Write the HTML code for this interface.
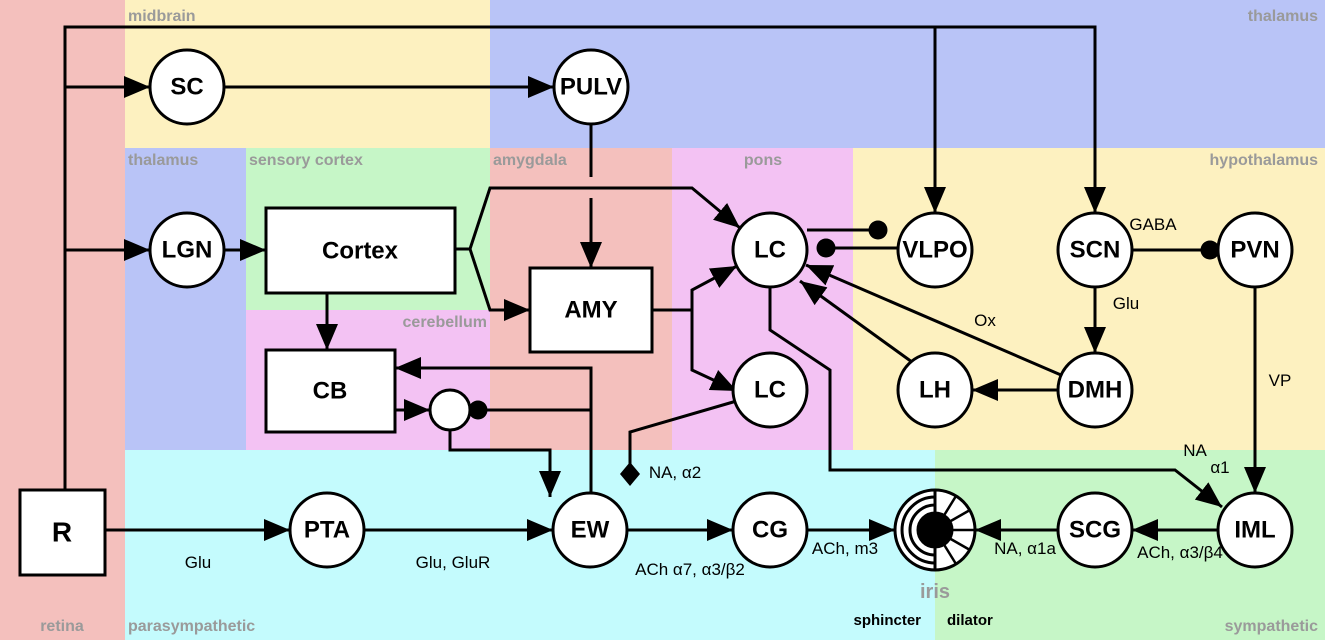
<!DOCTYPE html>
<html><head><meta charset="utf-8"><style>
html,body{margin:0;padding:0;background:#fff}
svg{display:block}
.r{font:bold 16px "Liberation Sans",sans-serif;fill:#9a9a9a}
.n{font:bold 24px "Liberation Sans",sans-serif;text-anchor:middle;dominant-baseline:central}
.l{font:17px "Liberation Sans",sans-serif;text-anchor:middle}
.b{font:bold 15px "Liberation Sans",sans-serif}
</style></head><body>
<svg width="1325" height="640" viewBox="0 0 1325 640" xmlns="http://www.w3.org/2000/svg">
<defs>
<marker id="ar" viewBox="-26 -11 26 22" refX="0" refY="0" markerWidth="26" markerHeight="22" markerUnits="userSpaceOnUse" orient="auto"><path d="M-26,-11 L0,0 L-26,11 Z" fill="#000"/></marker>
<marker id="d" viewBox="-10 -10 20 20" refX="0" refY="0" markerWidth="20" markerHeight="20" markerUnits="userSpaceOnUse" orient="auto"><circle cx="0" cy="0" r="9.5" fill="#000"/></marker>
<marker id="dm" viewBox="-12 -12 24 24" refX="0" refY="0" markerWidth="24" markerHeight="24" markerUnits="userSpaceOnUse" orient="auto"><path d="M-12,0 L0,-10 L12,0 L0,10 Z" fill="#000"/></marker>
</defs>
<rect x="0" y="0" width="125" height="640" fill="#f4c0bd"/>
<rect x="125" y="0" width="365" height="148" fill="#fdf1c0"/>
<rect x="490" y="0" width="835" height="148" fill="#b9c4f7"/>
<rect x="125" y="148" width="121" height="302" fill="#b9c4f7"/>
<rect x="246" y="148" width="244" height="162" fill="#c6f6c7"/>
<rect x="246" y="310" width="244" height="140" fill="#f3c2f3"/>
<rect x="490" y="148" width="182" height="302" fill="#f4c0bd"/>
<rect x="672" y="148" width="181" height="302" fill="#f3c2f3"/>
<rect x="853" y="148" width="472" height="302" fill="#fdf1c0"/>
<rect x="125" y="450" width="810" height="190" fill="#c4fbfd"/>
<rect x="935" y="450" width="390" height="190" fill="#c6f6c7"/>
<g class="r">
<text x="128" y="21">midbrain</text>
<text x="1318" y="21" text-anchor="end">thalamus</text>
<text x="128" y="165">thalamus</text>
<text x="249" y="165">sensory cortex</text>
<text x="493" y="165">amygdala</text>
<text x="763" y="165" text-anchor="middle">pons</text>
<text x="1318" y="165" text-anchor="end">hypothalamus</text>
<text x="487" y="327" text-anchor="end">cerebellum</text>
<text x="62" y="631" text-anchor="middle">retina</text>
<text x="128" y="631">parasympathetic</text>
<text x="1318" y="631" text-anchor="end">sympathetic</text>
<text x="935" y="598" text-anchor="middle" style="font-size:20px">iris</text>
</g>
<text class="b" x="921" y="625" text-anchor="end">sphincter</text>
<text class="b" x="947" y="625">dilator</text>
<g stroke="#000" stroke-width="3" fill="none">
<path d="M65,490 V27 H1095 V213" marker-end="url(#ar)"/>
<path d="M935,27 V213" marker-end="url(#ar)"/>
<path d="M65,87 H150" marker-end="url(#ar)"/>
<path d="M65,250 H150" marker-end="url(#ar)"/>
<path d="M224,87 H554" marker-end="url(#ar)"/>
<path d="M591,124 V177"/>
<path d="M591,198 V268" marker-end="url(#ar)"/>
<path d="M224,250 H266" marker-end="url(#ar)"/>
<path d="M455,249 H470 L490,188 H692 L740,228" marker-end="url(#ar)"/>
<path d="M470,249 L490,310 H530" marker-end="url(#ar)"/>
<path d="M327,293 V350" marker-end="url(#ar)"/>
<path d="M652,310 H692 V290 L737,266" marker-end="url(#ar)"/>
<path d="M692,310 V370 L737,391" marker-end="url(#ar)"/>
<path d="M807,230 H878" marker-end="url(#d)"/>
<path d="M898,248 H826" marker-end="url(#d)"/>
<path d="M1132,250 H1210" marker-end="url(#d)"/>
<path d="M1095,287 V353" marker-end="url(#ar)"/>
<path d="M1058,390 H972" marker-end="url(#ar)"/>
<path d="M1061,375 L806,265" marker-end="url(#ar)"/>
<path d="M912,362 L800,281" marker-end="url(#ar)"/>
<path d="M1255,287 V493" marker-end="url(#ar)"/>
<path d="M770,287 V330 L830,370 V470 H1175 L1222,507" marker-end="url(#ar)"/>
<path d="M740,400 L630,432 V474" marker-end="url(#dm)"/>
<path d="M105,530 H290" marker-end="url(#ar)"/>
<path d="M364,530 H553" marker-end="url(#ar)"/>
<path d="M627,530 H733" marker-end="url(#ar)"/>
<path d="M807,530 H895" marker-end="url(#ar)"/>
<path d="M1058,530 H975" marker-end="url(#ar)"/>
<path d="M1218,530 H1132" marker-end="url(#ar)"/>
<path d="M591,493 V368 H395" marker-end="url(#ar)"/>
<path d="M395,410 H430" marker-end="url(#ar)"/>
<path d="M591,410 H478" marker-end="url(#d)"/>
<path d="M450,430 V450 H550 V497" marker-end="url(#ar)"/>
</g>
<g stroke="#000" stroke-width="3" fill="#fff">
<circle cx="187" cy="87" r="37"/><circle cx="591" cy="87" r="37"/>
<circle cx="187" cy="250" r="37"/><circle cx="770" cy="250" r="37"/>
<circle cx="935" cy="250" r="37"/><circle cx="1095" cy="250" r="37"/>
<circle cx="1255" cy="250" r="37"/><circle cx="770" cy="390" r="37"/>
<circle cx="935" cy="390" r="37"/><circle cx="1095" cy="390" r="37"/>
<circle cx="327" cy="530" r="37"/><circle cx="590" cy="530" r="37"/>
<circle cx="770" cy="530" r="37"/><circle cx="1095" cy="530" r="37"/>
<circle cx="1255" cy="530" r="37"/>
<circle cx="450" cy="410" r="20"/>
<rect x="266" y="208" width="189" height="85"/>
<rect x="530" y="268" width="122" height="84"/>
<rect x="266" y="350" width="129" height="82"/>
<rect x="20" y="490" width="85" height="85"/>
</g>
<g stroke="#000" stroke-width="3" fill="none">
<circle cx="935" cy="530" r="40" fill="#fff"/>
<path d="M935,497 A33,33 0 0 0 935,563"/>
<path d="M935,505 A25,25 0 0 0 935,555"/>
<line x1="935" y1="490" x2="935" y2="570"/>
<g stroke-width="2.5">
<line x1="935" y1="530" x2="956" y2="496"/>
<line x1="935" y1="530" x2="970" y2="510"/>
<line x1="935" y1="530" x2="975" y2="530"/>
<line x1="935" y1="530" x2="970" y2="550"/>
<line x1="935" y1="530" x2="956" y2="564"/>
</g>
<circle cx="935" cy="530" r="17" fill="#000"/>
</g>
<g class="n">
<text x="187" y="87">SC</text><text x="591" y="87">PULV</text>
<text x="187" y="250">LGN</text><text x="770" y="250">LC</text>
<text x="935" y="250">VLPO</text><text x="1095" y="250">SCN</text>
<text x="1255" y="250">PVN</text><text x="770" y="390">LC</text>
<text x="935" y="390">LH</text><text x="1095" y="390">DMH</text>
<text x="327" y="530">PTA</text><text x="590" y="530">EW</text>
<text x="770" y="530">CG</text><text x="1095" y="530">SCG</text>
<text x="1255" y="530">IML</text>
<text x="360" y="251">Cortex</text><text x="591" y="310">AMY</text>
<text x="330" y="391">CB</text><text x="62" y="532" style="font-size:28px">R</text>
</g>
<g class="l">
<text x="1153" y="230">GABA</text>
<text x="1126" y="309">Glu</text>
<text x="985" y="326">Ox</text>
<text x="1280" y="386">VP</text>
<text x="1195" y="456">NA</text>
<text x="1220" y="473">α1</text>
<text x="675" y="478">NA, α2</text>
<text x="198" y="568">Glu</text>
<text x="453" y="568">Glu, GluR</text>
<text x="690" y="575">ACh α7, α3/β2</text>
<text x="845" y="554">ACh, m3</text>
<text x="1025" y="554">NA, α1a</text>
<text x="1180" y="558">ACh, α3/β4</text>
</g>
</svg>
</body></html>
